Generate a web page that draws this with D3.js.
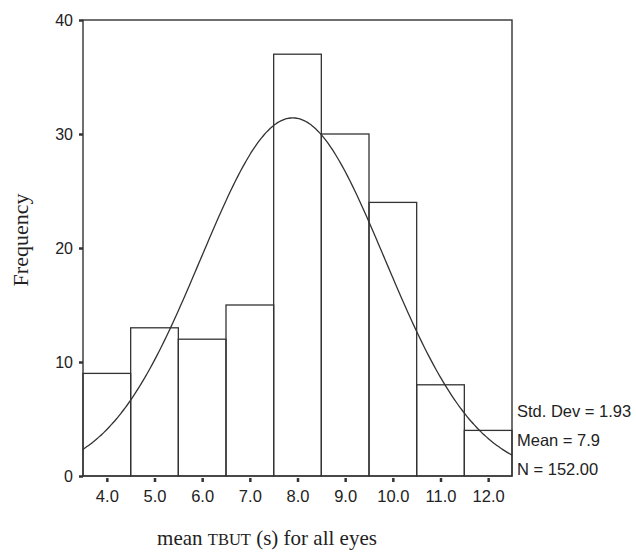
<!DOCTYPE html>
<html>
<head>
<meta charset="utf-8">
<script src="https://cdn.jsdelivr.net/npm/d3@7"></script>
<style>
  body { margin: 0; background: #fff; }
</style>
</head>
<body>
<div id="chart"></div>
<script>
// histogram bins (centres) and counts
const binCenters = [4.0, 5.0, 6.0, 7.0, 8.0, 9.0, 10.0, 11.0, 12.0];
const counts = [9, 13, 12, 15, 37, 30, 24, 8, 4];
const yTicks = [0, 10, 20, 30, 40];
const xTickLabels = ["4.0", "5.0", "6.0", "7.0", "8.0", "9.0", "10.0", "11.0", "12.0"];
const stats = ["Std. Dev = 1.93", "Mean = 7.9", "N = 152.00"];
const sd = 1.93, mean = 7.9, n = 152;

const W = 636, H = 560;
const plotLeft = 83, plotRight = 512, plotTop = 20, plotBottom = 476;
const ink = "#333";

const svg = d3.select("#chart").append("svg")
  .attr("width", W).attr("height", H);

const x = d3.scaleLinear().domain([3.5, 12.5]).range([plotLeft, plotRight]);
const y = d3.scaleLinear().domain([0, 40]).range([plotBottom, plotTop]);

// frame
svg.append("rect")
  .attr("x", plotLeft).attr("y", plotTop)
  .attr("width", plotRight - plotLeft).attr("height", plotBottom - plotTop)
  .attr("fill", "none").attr("stroke", ink).attr("stroke-width", 1.4);

// bars
svg.selectAll("rect.bar")
  .data(counts)
  .enter().append("rect")
  .attr("class", "bar")
  .attr("x", (d, i) => x(binCenters[i] - 0.5))
  .attr("y", d => y(d))
  .attr("width", (d, i) => x(binCenters[i] + 0.5) - x(binCenters[i] - 0.5))
  .attr("height", d => y(0) - y(d))
  .attr("fill", "none")
  .attr("stroke", ink)
  .attr("stroke-width", 1.3);

// fitted normal curve
const pts = d3.range(3.5, 12.5001, 0.05).map(v =>
  [v, n * Math.exp(-0.5 * Math.pow((v - mean) / sd, 2)) / (sd * Math.sqrt(2 * Math.PI))]);
svg.append("path")
  .datum(pts)
  .attr("fill", "none")
  .attr("stroke", ink)
  .attr("stroke-width", 1.3)
  .attr("d", d3.line().x(d => x(d[0])).y(d => y(d[1])).curve(d3.curveBasis));

// y axis
const yAxis = svg.append("g")
  .attr("transform", `translate(${plotLeft},0)`)
  .call(d3.axisLeft(y).tickValues(yTicks).tickSize(4).tickPadding(6));
yAxis.select(".domain").remove();
yAxis.selectAll("line").attr("stroke", ink).attr("stroke-width", 2.5);
yAxis.selectAll("text")
  .attr("font-family", "Liberation Sans, Arial, sans-serif")
  .attr("font-size", 16).attr("fill", "#222");

// x axis
const xAxis = svg.append("g")
  .attr("transform", `translate(0,${plotBottom})`)
  .call(d3.axisBottom(x).tickValues(binCenters)
    .tickFormat((d, i) => xTickLabels[i]).tickSize(4).tickPadding(10));
xAxis.select(".domain").remove();
xAxis.selectAll("line").attr("stroke", ink).attr("stroke-width", 2.5)
  .attr("y1", 2).attr("y2", 6);
xAxis.selectAll("text")
  .attr("font-family", "Liberation Sans, Arial, sans-serif")
  .attr("font-size", 16.5).attr("fill", "#222");

// stats legend
svg.selectAll("text.stat")
  .data(stats)
  .enter().append("text")
  .attr("class", "stat")
  .attr("x", plotRight + 5)
  .attr("y", (d, i) => 417 + i * 29)
  .attr("font-family", "Liberation Sans, Arial, sans-serif")
  .attr("font-size", 16.5).attr("fill", "#222")
  .text(d => d);

// axis titles
svg.append("text")
  .attr("transform", `translate(28,240) rotate(-90)`)
  .attr("text-anchor", "middle")
  .attr("font-family", "Liberation Serif, Times New Roman, serif")
  .attr("font-size", 22).attr("fill", "#222")
  .text("Frequency");

const xt = svg.append("text")
  .attr("x", 267).attr("y", 545)
  .attr("text-anchor", "middle")
  .attr("font-family", "Liberation Serif, Times New Roman, serif")
  .attr("font-size", 21).attr("fill", "#222");
xt.append("tspan").text("mean ");
xt.append("tspan").attr("font-size", 16.5).text("TBUT");
xt.append("tspan").text(" (s) for all eyes");
</script>
</body>
</html>
